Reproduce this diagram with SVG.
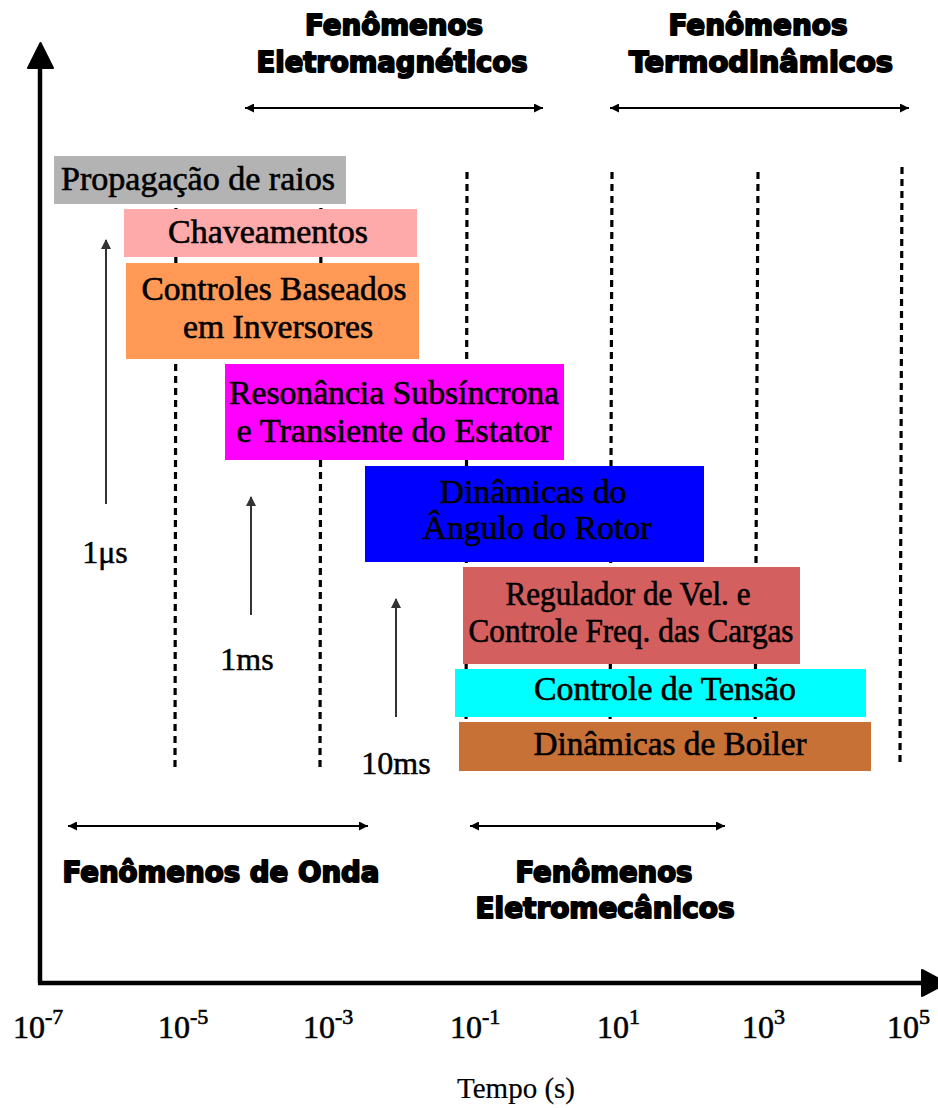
<svg xmlns="http://www.w3.org/2000/svg" width="938" height="1108" viewBox="0 0 938 1108">
  <defs>
    <style>
      .box-label { font-family: "Liberation Serif", "DejaVu Serif", serif; font-size: 33px; fill: #000; stroke: #000; stroke-width: 0.6; text-anchor: middle; }
      .head { font-family: "DejaVu Sans Condensed", "DejaVu Sans", sans-serif; font-weight: bold; font-size: 29px; fill: #000; stroke: #000; stroke-width: 1.8; stroke-linejoin: round; text-anchor: middle; }
      .tick { font-family: "Liberation Serif", "DejaVu Serif", serif; font-size: 32px; fill: #000; stroke: #000; stroke-width: 0.6; }
      .sup { font-size: 22px; }
      .span-label { font-family: "Liberation Serif", "DejaVu Serif", serif; font-size: 32px; fill: #000; stroke: #000; stroke-width: 0.5; text-anchor: middle; }
      .axis-title { font-family: "Liberation Serif", "DejaVu Serif", serif; font-size: 29px; fill: #000; stroke: #000; stroke-width: 0.2; text-anchor: middle; }
      .guide { stroke: #000; stroke-width: 3.2; stroke-dasharray: 7 5; fill: none; }
      .span { stroke: #000; stroke-width: 2; fill: none; marker-start: url(#tip); marker-end: url(#tip); }
      .scale { stroke: #333; stroke-width: 2; fill: none; marker-end: url(#smalltip); }
    </style>
    <marker id="tip" viewBox="0 0 10 10" refX="10" refY="5" markerWidth="11" markerHeight="9" markerUnits="userSpaceOnUse" orient="auto-start-reverse">
      <path d="M0,0 L10,5 L0,10 Z" fill="#000"/>
    </marker>
    <marker id="smalltip" viewBox="0 0 10 10" refX="9" refY="5" markerWidth="11" markerHeight="10" markerUnits="userSpaceOnUse" orient="auto">
      <path d="M0,0 L10,5 L0,10 Z" fill="#333"/>
    </marker>
  </defs>

  <rect width="938" height="1108" fill="#fff"/>

  <!-- dotted decade guides -->
  <g id="guides">
    <line class="guide" x1="176" y1="172" x2="175" y2="768"/>
    <line class="guide" x1="321" y1="172" x2="320" y2="768"/>
    <line class="guide" x1="467" y1="172" x2="466" y2="768"/>
    <line class="guide" x1="612" y1="172" x2="610" y2="766"/>
    <line class="guide" x1="758" y1="172" x2="755" y2="766"/>
    <line class="guide" x1="902" y1="167" x2="900" y2="762"/>
  </g>

  <!-- axes -->
  <g id="axes">
    <line x1="40" y1="983" x2="40" y2="66" stroke="#000" stroke-width="4.5"/>
    <polygon points="28,68 53,68 40.5,43" fill="#000" stroke="#000" stroke-width="2" stroke-linejoin="round"/>
    <line x1="38" y1="983" x2="924" y2="983" stroke="#000" stroke-width="4.5"/>
    <polygon points="922,970 922,996 947,983" fill="#000" stroke="#000" stroke-width="2" stroke-linejoin="round"/>
  </g>

  <!-- phenomenon ranges and scale arrows -->
  <g id="connectors">
    <line class="span" x1="245" y1="108" x2="543" y2="108"/>
    <line class="span" x1="610" y1="108" x2="909" y2="108"/>
    <line class="span" x1="68" y1="826" x2="368" y2="826"/>
    <line class="span" x1="470" y1="826" x2="725" y2="826"/>
    <line class="scale" x1="106" y1="504" x2="106" y2="240"/>
    <line class="scale" x1="251" y1="615" x2="251" y2="497"/>
    <line class="scale" x1="396" y1="717" x2="396" y2="599"/>
  </g>

  <!-- phenomenon headings -->
  <g id="head-eletromag">
    <text class="head" x="394" y="35" textLength="178" lengthAdjust="spacingAndGlyphs">Fenômenos</text>
    <text class="head" x="392" y="72" textLength="271" lengthAdjust="spacingAndGlyphs">Eletromagnéticos</text>
  </g>
  <g id="head-termo">
    <text class="head" x="758" y="35" textLength="179" lengthAdjust="spacingAndGlyphs">Fenômenos</text>
    <text class="head" x="761" y="72" textLength="264" lengthAdjust="spacingAndGlyphs">Termodinâmicos</text>
  </g>
  <g id="head-onda">
    <text class="head" x="221" y="882" textLength="317" lengthAdjust="spacingAndGlyphs">Fenômenos de Onda</text>
  </g>
  <g id="head-eletromec">
    <text class="head" x="604" y="882" textLength="177" lengthAdjust="spacingAndGlyphs">Fenômenos</text>
    <text class="head" x="605" y="918" textLength="259" lengthAdjust="spacingAndGlyphs">Eletromecânicos</text>
  </g>

  <!-- dynamic phenomena bands -->
  <g id="propagacao">
    <rect x="54" y="156" width="292" height="48" fill="#b3b3b3"/>
    <text class="box-label" x="198" y="190" textLength="274" lengthAdjust="spacingAndGlyphs">Propagação de raios</text>
  </g>
  <g id="chaveamentos">
    <rect x="124" y="209" width="293" height="48" fill="#ffaaaa"/>
    <text class="box-label" x="268" y="243" textLength="200" lengthAdjust="spacingAndGlyphs">Chaveamentos</text>
  </g>
  <g id="controles-inversores">
    <rect x="126" y="263" width="293" height="96" fill="#ff9955"/>
    <text class="box-label" x="274" y="300" textLength="265" lengthAdjust="spacingAndGlyphs">Controles Baseados</text>
    <text class="box-label" x="278" y="338" textLength="190" lengthAdjust="spacingAndGlyphs">em Inversores</text>
  </g>
  <g id="ressonancia">
    <rect x="225" y="364" width="339" height="96" fill="#ff00ff"/>
    <text class="box-label" x="394" y="404" textLength="330" lengthAdjust="spacingAndGlyphs">Resonância Subsíncrona</text>
    <text class="box-label" x="394" y="442" textLength="315" lengthAdjust="spacingAndGlyphs">e Transiente do Estator</text>
  </g>
  <g id="angulo-rotor">
    <rect x="365" y="466" width="339" height="96" fill="#0000ff"/>
    <text class="box-label" x="533" y="503" textLength="187" lengthAdjust="spacingAndGlyphs">Dinâmicas do</text>
    <text class="box-label" x="537" y="539" textLength="229" lengthAdjust="spacingAndGlyphs">Ângulo do Rotor</text>
  </g>
  <g id="regulador">
    <rect x="463" y="567" width="337" height="97" fill="#d35f5f"/>
    <text class="box-label" x="628" y="605" textLength="245" lengthAdjust="spacingAndGlyphs">Regulador de Vel. e</text>
    <text class="box-label" x="631" y="642" textLength="325" lengthAdjust="spacingAndGlyphs">Controle Freq. das Cargas</text>
  </g>
  <g id="tensao">
    <rect x="455" y="669" width="411" height="48" fill="#00ffff"/>
    <text class="box-label" x="665" y="700" textLength="262" lengthAdjust="spacingAndGlyphs">Controle de Tensão</text>
  </g>
  <g id="boiler">
    <rect x="459" y="722" width="412" height="49" fill="#c87137"/>
    <text class="box-label" x="670" y="755" textLength="273" lengthAdjust="spacingAndGlyphs">Dinâmicas de Boiler</text>
  </g>

  <!-- time scale markers -->
  <g id="scale-labels">
    <text class="span-label" x="105" y="563">1μs</text>
    <text class="span-label" x="247" y="670">1ms</text>
    <text class="span-label" x="396" y="774">10ms</text>
  </g>

  <!-- decade ticks -->
  <g id="tick-labels">
    <text class="tick" x="13" y="1038">10<tspan class="sup" dy="-14">-7</tspan></text>
    <text class="tick" x="158" y="1038">10<tspan class="sup" dy="-14">-5</tspan></text>
    <text class="tick" x="303" y="1038">10<tspan class="sup" dy="-14">-3</tspan></text>
    <text class="tick" x="450" y="1038">10<tspan class="sup" dy="-14">-1</tspan></text>
    <text class="tick" x="597" y="1038">10<tspan class="sup" dy="-14">1</tspan></text>
    <text class="tick" x="742" y="1038">10<tspan class="sup" dy="-14">3</tspan></text>
    <text class="tick" x="887" y="1038">10<tspan class="sup" dy="-14">5</tspan></text>
    <text class="axis-title" x="516" y="1098">Tempo (s)</text>
  </g>
</svg>
